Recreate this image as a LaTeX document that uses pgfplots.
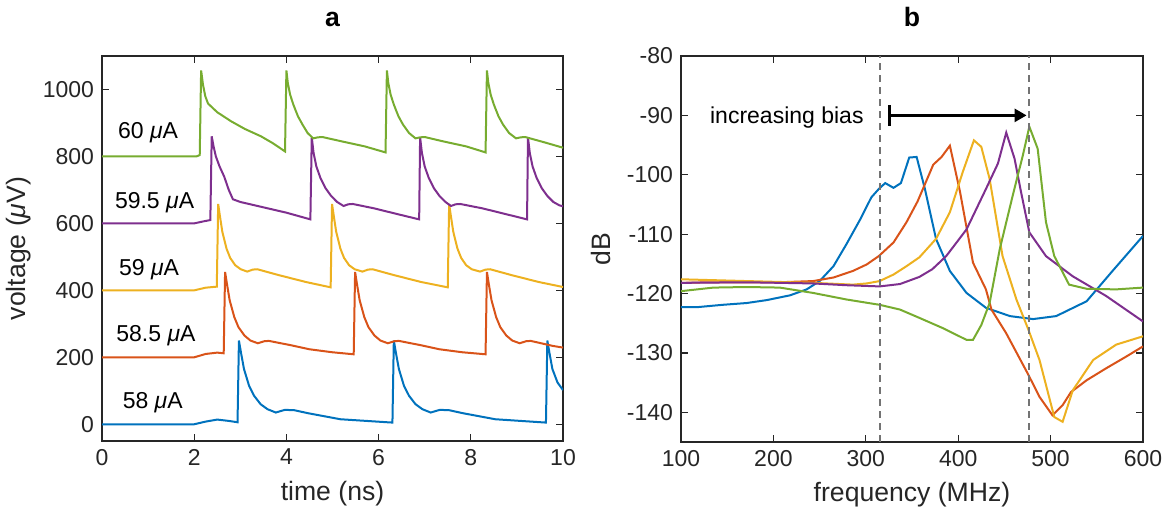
\documentclass[border=0pt]{standalone}
\usepackage{fontspec}
\setmainfont{Liberation Sans}
\usepackage{pgfplots}
\pgfplotsset{compat=1.18}
\usetikzlibrary{arrows.meta}
\definecolor{mblue}{rgb}{0,0.447,0.741}
\definecolor{mred}{rgb}{0.85,0.325,0.098}
\definecolor{myellow}{rgb}{0.929,0.694,0.125}
\definecolor{mpurple}{rgb}{0.494,0.184,0.556}
\definecolor{mgreen}{rgb}{0.466,0.674,0.188}
\definecolor{axgray}{rgb}{0.15,0.15,0.15}
\newcommand{\myfont}{\fontsize{11.5}{13.8}\selectfont}
\newcommand{\labfont}{\fontsize{13.3}{16}\selectfont}
\pgfplotsset{
  myax/.style={
    scale only axis,
    axis line style={draw=axgray, line width=0.6pt},
    every tick/.style={draw=axgray, line width=0.6pt},
    major tick length=3.5pt,
    tick align=inside,
    tick label style={font=\myfont, text=axgray},
    label style={font=\labfont, text=axgray},
    /pgf/number format/assume math mode=true,
    /pgf/number format/1000 sep={},
    every axis plot/.append style={line width=1pt, mark=none},
  }
}
\begin{document}
\myfont
\begin{tikzpicture}[font=\myfont]
\path[use as bounding box] (0,0) rectangle (583pt,-258.5pt);
\begin{axis}[myax, name=axA, at={(51pt,-220.5pt)}, anchor=south west,
  width=230.5pt, height=192.5pt,
  xmin=0, xmax=10, ymin=-50, ymax=1100,
  xtick={0,2,4,6,8,10}, ytick={0,200,400,600,800,1000},
  xlabel={time (ns)}, ylabel={voltage (\textit{μ}V)},
  ylabel style={yshift=-2pt}]
\addplot[mblue] coordinates {(0,0)(2,0)(2.25,8)(2.5,14)(2.75,10)(2.94,6)(2.97,250)(3.02,210)(3.08,165)(3.19,115)(3.30,85)(3.44,60)(3.59,45)(3.77,35)(3.89,40)(3.97,43)(4.17,42)(4.47,33)(5.17,15)(6.30,5)(6.33,250)(6.38,210)(6.44,165)(6.55,115)(6.66,85)(6.80,60)(6.95,45)(7.13,35)(7.25,40)(7.33,43)(7.53,42)(7.83,33)(8.53,15)(9.63,5)(9.66,250)(9.71,210)(9.77,165)(9.88,125)(10,102)};
\addplot[mred] coordinates {(0,200)(2,200)(2.25,210)(2.5,214)(2.64,212)(2.67,455)(2.715,415)(2.77,370)(2.87,320)(2.96,290)(3.09,265)(3.22,250)(3.38,242)(3.52,248)(3.62,249)(4.1,236)(4.5,224)(5.0,215)(5.46,209)(5.49,455)(5.535,415)(5.59,370)(5.69,320)(5.78,290)(5.91,265)(6.04,250)(6.2,242)(6.34,248)(6.44,249)(6.92,236)(7.32,224)(7.82,215)(8.32,209)(8.35,455)(8.395,415)(8.45,370)(8.55,320)(8.64,290)(8.77,265)(8.9,250)(9.06,242)(9.2,248)(9.3,249)(9.78,234)(10,229)};
\addplot[myellow] coordinates {(0,400)(2,400)(2.25,408)(2.49,411)(2.52,658)(2.56,620)(2.61,575)(2.70,525)(2.78,497)(2.89,475)(3.01,463)(3.15,456)(3.27,462)(3.37,463)(3.82,446)(4.42,425)(4.96,409)(4.99,658)(5.03,620)(5.08,575)(5.17,525)(5.25,497)(5.36,475)(5.48,463)(5.65,456)(5.77,462)(5.87,463)(6.32,446)(6.92,425)(7.50,409)(7.53,658)(7.57,620)(7.62,575)(7.71,525)(7.79,497)(7.90,475)(8.02,463)(8.2,456)(8.32,462)(8.42,463)(8.87,446)(9.47,425)(10,410)};
\addplot[mpurple] coordinates {(0,600)(2,600)(2.2,606)(2.35,610)(2.38,860)(2.42,830)(2.47,800)(2.55,770)(2.65,740)(2.75,700)(2.84,672)(3.0,664)(3.5,648)(4.0,632)(4.52,612)(4.55,857)(4.59,810)(4.65,770)(4.74,735)(4.85,705)(4.97,682)(5.1,664)(5.24,652)(5.34,657)(5.44,658)(5.9,645)(6.4,628)(6.88,612)(6.90,857)(6.94,810)(7.0,770)(7.09,735)(7.2,705)(7.32,682)(7.45,664)(7.57,652)(7.67,657)(7.77,658)(8.25,645)(8.75,628)(9.22,612)(9.24,857)(9.28,810)(9.34,770)(9.43,735)(9.54,705)(9.66,682)(9.79,664)(9.92,654)(10,651)};
\addplot[mgreen] coordinates {(0,800)(2.05,800)(2.12,804)(2.15,1057)(2.19,1015)(2.24,980)(2.3,958)(2.5,932)(2.8,905)(3.1,882)(3.45,860)(3.7,840)(3.97,815)(4.0,1057)(4.03,1020)(4.08,985)(4.15,955)(4.25,920)(4.35,895)(4.46,870)(4.58,854)(4.68,857)(4.78,858)(5.2,845)(5.7,830)(6.15,812)(6.18,1057)(6.21,1020)(6.26,985)(6.33,955)(6.43,920)(6.53,895)(6.66,870)(6.8,854)(6.9,857)(7.0,858)(7.4,845)(7.9,830)(8.32,812)(8.35,1057)(8.38,1020)(8.43,985)(8.5,955)(8.6,920)(8.7,895)(8.83,870)(8.98,854)(9.08,857)(9.18,858)(9.6,842)(10,826)};
\node at (axis cs:1.0,872) {60 \textit{μ}A};
\node at (axis cs:1.14,663) {59.5 \textit{μ}A};
\node at (axis cs:1.02,463) {59 \textit{μ}A};
\node at (axis cs:1.17,264) {58.5 \textit{μ}A};
\node at (axis cs:1.1,63) {58 \textit{μ}A};
\end{axis}
\begin{axis}[myax, name=axB, at={(340.5pt,-221pt)}, anchor=south west,
  width=231pt, height=193pt,
  xmin=100, xmax=600, ymin=-145, ymax=-80,
  xtick={100,200,300,400,500,600}, ytick={-140,-130,-120,-110,-100,-90,-80},
  xlabel={frequency (MHz)}, ylabel={dB}]
\addplot[mblue] coordinates {(100,-122.3)(117,-122.3)(145,-121.9)(171,-121.6)(193,-121.1)(218,-120.3)(236,-119.3)(250,-117.9)(265,-115.4)(279,-111.7)(294,-107.5)(306,-103.8)(314,-102.4)(321,-101.4)(330,-102.2)(338,-101.4)(347,-97.1)(355,-97.0)(364,-102.4)(376,-110.8)(391,-116.2)(409,-119.9)(430,-122.4)(456,-123.8)(481,-124.3)(506,-123.8)(539,-121.3)(567,-116.2)(600,-110.3)};
\addplot[mred] coordinates {(100,-118.2)(135,-118.1)(171,-118.1)(207,-118.1)(243,-117.9)(265,-117.3)(286,-116.2)(301,-115.1)(314,-113.7)(330,-111.4)(344,-108.0)(356,-104.5)(373,-98.3)(382,-97.0)(391,-95.1)(402,-102.9)(416,-114.8)(430,-119.3)(436,-122.7)(452,-126.7)(476,-133.7)(488,-137.4)(502,-140.5)(513,-138.8)(522,-136.6)(539,-134.6)(560,-132.6)(582,-130.6)(600,-128.9)};
\addplot[myellow] coordinates {(100,-117.6)(171,-117.9)(243,-118.2)(286,-118.5)(301,-118.3)(315,-117.9)(330,-116.8)(344,-115.4)(358,-113.9)(376,-110.8)(391,-106.3)(405,-99.5)(417,-94.2)(425,-95.3)(434,-100.7)(448,-113.7)(463,-121.0)(476,-126.1)(488,-131.2)(504,-140.8)(513,-141.6)(524,-136.3)(546,-131.2)(571,-128.6)(600,-127.2)};
\addplot[mpurple] coordinates {(100,-118.2)(171,-118.1)(243,-118.3)(279,-118.6)(315,-118.8)(337,-118.4)(358,-117.2)(372,-115.9)(387,-113.7)(409,-109.2)(430,-102.4)(443,-98.1)(452,-92.9)(461,-97.3)(468,-102.9)(477,-109.7)(495,-113.7)(524,-117.1)(560,-120.4)(600,-124.7)};
\addplot[mgreen] coordinates {(100,-119.6)(135,-119.0)(171,-118.9)(207,-119.0)(243,-119.9)(279,-121.0)(315,-121.9)(337,-122.7)(358,-124.1)(383,-125.8)(409,-127.8)(416,-127.8)(425,-125.3)(434,-121.6)(445,-112.5)(459,-103.5)(470,-96.7)(477,-91.9)(486,-95.6)(495,-108.0)(504,-113.7)(520,-118.5)(539,-119.2)(571,-119.3)(600,-119.0)};
\addplot[black!55, line width=1pt, dash pattern=on 3.5pt off 2.5pt] coordinates {(315,-145)(315,-80)};
\addplot[black!55, line width=1pt, dash pattern=on 3.5pt off 2.5pt] coordinates {(476.3,-145)(476.3,-80)};
\draw[black, line width=1.3pt, arrows={Bar[width=10.5pt]-Triangle[length=6pt,width=6.5pt]}] (axis cs:324,-90) -- (axis cs:474,-90);
\node[anchor=mid east, inner sep=0pt, text=black] at (axis cs:298,-90.3) {increasing bias};
\end{axis}
\node[anchor=base, inner sep=0pt, yshift=14.5pt, font=\labfont\bfseries] at (axA.north) {a};
\node[anchor=base, inner sep=0pt, yshift=14.5pt, font=\labfont\bfseries] at (axB.north) {b};
\end{tikzpicture}
\end{document}
